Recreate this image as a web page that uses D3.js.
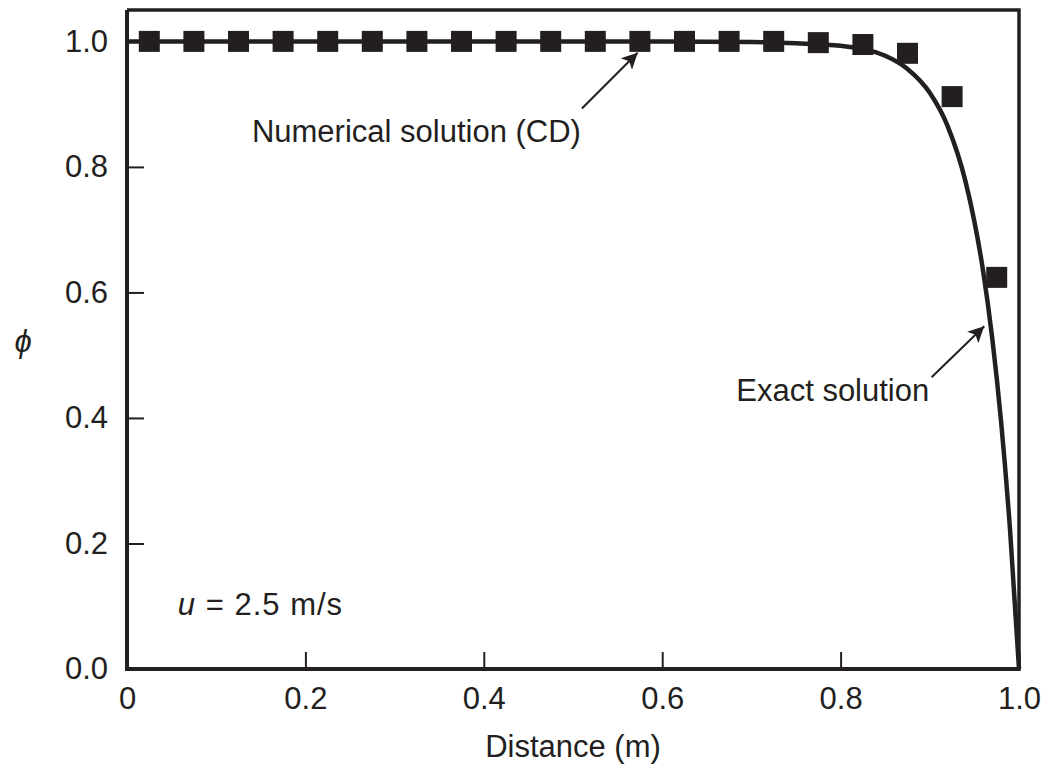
<!DOCTYPE html>
<html>
<head>
<meta charset="utf-8">
<script src="https://cdn.jsdelivr.net/npm/d3@7"></script>
<style>
  body { margin: 0; background: #fff; }
  svg text { font-family: "Liberation Sans", Arial, sans-serif; fill: #231f20; }
</style>
</head>
<body>
<svg id="chart" width="1045" height="765"></svg>
<script>
// numerical solution (central differencing), 20 nodes
const nodeX = [0.025, 0.075, 0.125, 0.175, 0.225, 0.275, 0.325, 0.375, 0.425, 0.475,
               0.525, 0.575, 0.625, 0.675, 0.725, 0.775, 0.825, 0.875, 0.925, 0.975];
const nodePhi = [1, 1, 1, 1, 1, 1, 1, 1, 1, 1,
                 1, 1, 1, 1, 1, 0.998, 0.995, 0.981, 0.912, 0.624];

// exact solution
const exactX = [0, 0.2, 0.4, 0.6, 0.7, 0.75, 0.8, 0.825, 0.85, 0.875, 0.9, 0.92,
                0.94, 0.95, 0.96, 0.97, 0.98, 0.99, 1.0];
const exactPhi = [1, 1, 1, 1, 0.999, 0.997, 0.993, 0.988, 0.977, 0.956, 0.918, 0.865,
                  0.777, 0.713, 0.632, 0.527, 0.393, 0.221, 0];

const xTicks = [0, 0.2, 0.4, 0.6, 0.8, 1.0];
const yTicks = [0, 0.2, 0.4, 0.6, 0.8, 1.0];

const ink = '#231f20';
const width = 1045, height = 765;
const margin = {top: 10, right: 26, bottom: 96, left: 127};

const svg = d3.select('#chart');

const x = d3.scaleLinear()
    .domain([0, 1])
    .range([margin.left, width - margin.right]);

const y = d3.scaleLinear()
    .domain([0, 1.05])
    .range([height - margin.bottom, margin.top]);

// frame (top and right)
svg.append('path')
    .attr('d', 'M' + x(0) + ',' + y(1.05) + 'H' + x(1) + 'V' + y(0))
    .attr('fill', 'none')
    .attr('stroke', ink)
    .attr('stroke-width', 3.5);

// axes
const xAxis = d3.axisBottom(x)
    .tickValues(xTicks)
    .tickSize(-17)
    .tickPadding(18)
    .tickFormat(function(d) { return d === 0 ? '0' : d3.format('.1f')(d); });

const yAxis = d3.axisLeft(y)
    .tickValues(yTicks)
    .tickSize(-17)
    .tickPadding(19)
    .tickFormat(d3.format('.1f'));

const gx = svg.append('g')
    .attr('transform', 'translate(0,' + y(0) + ')')
    .call(xAxis);

const gy = svg.append('g')
    .attr('transform', 'translate(' + x(0) + ',0)')
    .call(yAxis);

[gx, gy].forEach(function(g) {
  g.select('.domain')
      .attr('stroke', ink)
      .attr('stroke-width', 4)
      .attr('d', g === gx
          ? 'M' + (x(0) - 2) + ',0H' + (x(1) + 1.75)
          : 'M0,' + (y(0) + 2) + 'V' + y(1.05));
  g.selectAll('.tick line').attr('stroke', ink).attr('stroke-width', 2);
  g.selectAll('.tick text')
      .style('font-size', '31px')
      .attr('fill', ink);
});

// exact solution
const line = d3.line()
    .x(function(d) { return x(d[0]); })
    .y(function(d) { return y(d[1]); })
    .curve(d3.curveMonotoneX);

svg.append('path')
    .datum(d3.zip(exactX, exactPhi))
    .attr('d', line)
    .attr('fill', 'none')
    .attr('stroke', ink)
    .attr('stroke-width', 4.5);

// numerical markers
const sq = 21;
svg.append('g')
    .selectAll('rect')
    .data(d3.zip(nodeX, nodePhi))
    .enter().append('rect')
    .attr('x', function(d) { return x(d[0]) - sq / 2; })
    .attr('y', function(d) { return y(d[1]) - sq / 2; })
    .attr('width', sq)
    .attr('height', sq)
    .attr('fill', ink);

// arrows + labels
svg.append('defs').append('marker')
    .attr('id', 'head')
    .attr('viewBox', '0 0 10 10')
    .attr('refX', 10)
    .attr('refY', 5)
    .attr('markerUnits', 'userSpaceOnUse')
    .attr('markerWidth', 24)
    .attr('markerHeight', 16)
    .attr('orient', 'auto')
  .append('path')
    .attr('d', 'M0,0L10,5L0,10L2.5,5Z')
    .attr('fill', ink);

const arrows = [
  {from: [0.510, 0.893], to: [0.5725, 0.982]},
  {from: [0.902, 0.465], to: [0.961, 0.546]}
];

svg.append('g')
    .selectAll('line')
    .data(arrows)
    .enter().append('line')
    .attr('x1', function(d) { return x(d.from[0]); })
    .attr('y1', function(d) { return y(d.from[1]); })
    .attr('x2', function(d) { return x(d.to[0]); })
    .attr('y2', function(d) { return y(d.to[1]); })
    .attr('stroke', ink)
    .attr('stroke-width', 2)
    .attr('marker-end', 'url(#head)');

svg.append('text')
    .attr('x', x(0.140))
    .attr('y', y(0.839))
    .style('font-size', '31px')
    .text('Numerical solution (CD)');

svg.append('text')
    .attr('x', x(0.683))
    .attr('y', y(0.427))
    .style('font-size', '31px')
    .text('Exact solution');

const uLabel = svg.append('text')
    .attr('x', x(0.057))
    .attr('y', y(0.086))
    .style('font-size', '31px')
    .style('letter-spacing', '1px');
uLabel.append('tspan').style('font-style', 'italic').text('u');
uLabel.append('tspan').text(' = 2.5 m/s');

// axis titles
svg.append('text')
    .attr('x', (x(0) + x(1)) / 2)
    .attr('y', 757)
    .attr('text-anchor', 'middle')
    .style('font-size', '31px')
    .text('Distance (m)');

svg.append('text')
    .attr('x', 23)
    .attr('y', 352)
    .attr('text-anchor', 'middle')
    .style('font-size', '31px')
    .style('font-style', 'italic')
    .text('ϕ');
</script>
</body>
</html>
